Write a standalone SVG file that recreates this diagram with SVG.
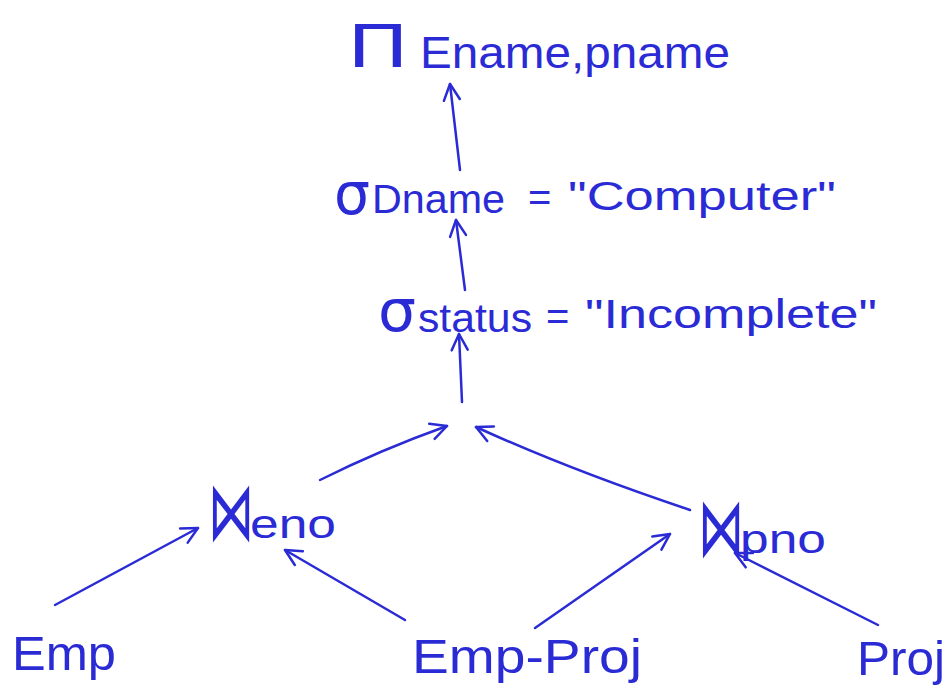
<svg xmlns="http://www.w3.org/2000/svg" width="950" height="693" viewBox="0 0 950 693">
<defs>
<style>
.t{font-family:"Liberation Sans","DejaVu Sans",sans-serif;fill:#2b2bd6;}
.s{font-family:"DejaVu Sans","Liberation Sans",sans-serif;fill:#2b2bd6;}
.c{fill:none;stroke:#2b2bd6;stroke-width:2.5;stroke-linecap:round;}
</style>
<marker id="ah" viewBox="0 0 20 20" refX="18" refY="10" markerWidth="20" markerHeight="20" markerUnits="userSpaceOnUse" orient="auto">
<polyline points="2,2 18,10 2,18" fill="none" stroke="#2b2bd6" stroke-width="2.5" stroke-linecap="round" stroke-linejoin="round"/>
</marker>
</defs>
<rect width="950" height="693" fill="#ffffff"/>
<g id="connectors">
<path class="c" d="M460,170 L450,84" marker-end="url(#ah)"/>
<path class="c" d="M465,290 L456,220" marker-end="url(#ah)"/>
<path class="c" d="M462,402 L459,334" marker-end="url(#ah)"/>
<path class="c" d="M320,480 Q380,450 447,426" marker-end="url(#ah)"/>
<path class="c" d="M690,510 Q570,470 476,427" marker-end="url(#ah)"/>
<path class="c" d="M55,605 L198,528" marker-end="url(#ah)"/>
<path class="c" d="M405,620 L285,550" marker-end="url(#ah)"/>
<path class="c" d="M535,628 L670,534" marker-end="url(#ah)"/>
<path class="c" d="M878,625 L735,553" marker-end="url(#ah)"/>
</g>
<g id="project">
<text class="s" x="347" y="67" font-size="58" textLength="62" lengthAdjust="spacingAndGlyphs">Π</text>
<text class="t" x="420" y="68" font-size="44" textLength="310" lengthAdjust="spacingAndGlyphs">Ename,pname</text>
</g>
<g id="select-dname">
<text class="s" x="334" y="214" font-size="58" textLength="36" lengthAdjust="spacingAndGlyphs">σ</text>
<text class="t" x="372" y="213" font-size="40" textLength="133" lengthAdjust="spacingAndGlyphs">Dname</text>
<text class="t" x="528" y="211" font-size="40">=</text>
<text class="t" x="568" y="210" font-size="40" textLength="268" lengthAdjust="spacingAndGlyphs">"Computer"</text>
</g>
<g id="select-status">
<text class="s" x="378" y="331" font-size="58" textLength="38" lengthAdjust="spacingAndGlyphs">σ</text>
<text class="t" x="418" y="332" font-size="40" textLength="114" lengthAdjust="spacingAndGlyphs">status</text>
<text class="t" x="546" y="330" font-size="40">=</text>
<text class="t" x="585" y="328" font-size="40" textLength="292" lengthAdjust="spacingAndGlyphs">"Incomplete"</text>
</g>
<g id="join-eno">
<text class="s" font-size="46" transform="translate(208,540) scale(1,1.8)">⋈</text>
<text class="t" x="250" y="538" font-size="40" textLength="86" lengthAdjust="spacingAndGlyphs">eno</text>
</g>
<g id="join-pno">
<text class="s" font-size="46" transform="translate(698,556) scale(1,1.8)">⋈</text>
<text class="t" x="740" y="553" font-size="40" textLength="86" lengthAdjust="spacingAndGlyphs">pno</text>
</g>
<g id="emp">
<text class="t" x="12" y="670" font-size="48" textLength="104" lengthAdjust="spacingAndGlyphs">Emp</text>
</g>
<g id="emp-proj">
<text class="t" x="412" y="673" font-size="48" textLength="230" lengthAdjust="spacingAndGlyphs">Emp-Proj</text>
</g>
<g id="proj">
<text class="t" x="857" y="675" font-size="48" textLength="88" lengthAdjust="spacingAndGlyphs">Proj</text>
</g>
</svg>
